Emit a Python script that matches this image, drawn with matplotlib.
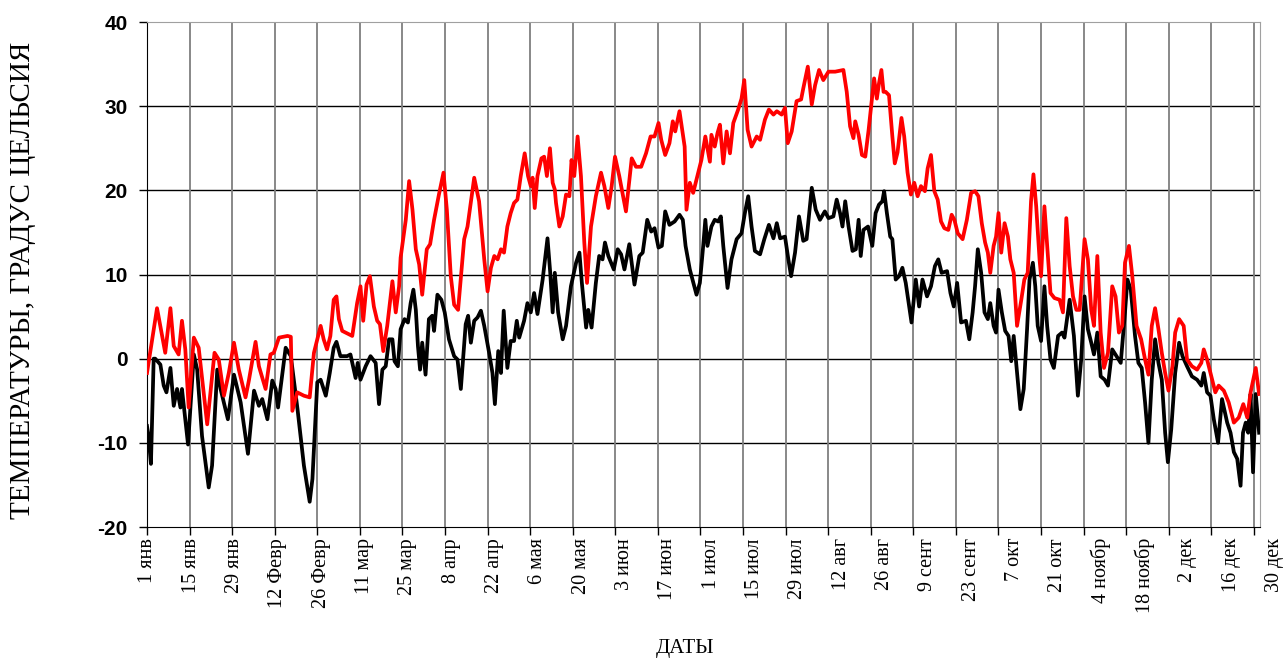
import numpy as np
import matplotlib.pyplot as plt
from matplotlib.transforms import blended_transform_factory, ScaledTranslation

# дневные максимумы (красная линия): день от 1 янв и температура
max_day = [0.0, 3.3, 6.0, 7.7, 8.8, 10.4, 11.5, 12.6, 13.7, 15.4, 17.0, 19.8, 22.2, 23.6, 25.3, 26.9,
           28.6, 30.2, 32.4, 33.5, 35.7, 36.8, 39.0, 40.6, 41.7, 43.4, 46.2, 47.3, 47.8, 49.4, 51.6,
           53.5, 54.9, 57.1, 58.1, 59.2, 60.3, 61.4, 62.3, 63.1, 64.2, 67.5, 69.1, 70.2, 71.1, 72.2,
           73.3, 74.6, 75.7, 76.6, 77.7, 79.0, 80.7, 81.8, 82.9, 83.4, 85.1, 86.2, 87.3, 88.4, 89.5,
           90.5, 92.0, 93.1, 94.4, 96.0, 97.5, 98.6, 99.9, 101.0, 102.3, 104.3, 105.4, 107.6, 109.2,
           110.9, 112.0, 113.1, 114.2, 115.3, 116.4, 117.4, 118.5, 119.6, 120.7, 121.8, 122.9, 124.2,
           125.3, 126.2, 126.8, 127.5, 128.4, 129.7, 130.6, 131.5, 132.5, 133.4, 134.1, 134.5, 135.6,
           136.7, 137.8, 138.9, 139.6, 140.5, 141.6, 142.7, 143.8, 144.7, 146.0, 147.6, 149.3, 150.4,
           151.7, 152.8, 153.9, 155.3, 157.5, 159.4, 160.8, 162.5, 164.1, 165.6, 166.9, 168.2, 169.1,
           170.4, 171.8, 172.9, 173.7, 175.1, 176.8, 177.4, 178.5, 179.6, 180.7, 182.3, 183.6, 185.1,
           185.6, 186.7, 187.6, 188.4, 189.5, 190.6, 191.7, 192.8, 194.4, 195.5, 196.4, 197.5, 198.8,
           200.5, 201.6, 203.2, 204.5, 206.0, 207.1, 208.7, 209.8, 210.7, 212.0, 213.6, 215.1, 215.8,
           217.3, 218.6, 219.7, 221.0, 222.4, 224.1, 226.3, 229.0, 230.1, 231.2, 232.3, 232.9, 234.0,
           235.1, 236.2, 237.3, 239.1, 240.0, 240.7, 241.5, 242.2, 242.9, 244.0, 245.1, 245.9, 246.8,
           248.1, 249.0, 250.1, 251.2, 252.3, 253.4, 254.5, 255.8, 256.7, 257.8, 258.9, 260.0, 261.1,
           262.2, 263.5, 264.6, 265.5, 266.6, 268.2, 269.6, 271.0, 272.3, 273.4, 274.5, 275.6, 276.5,
           277.3, 278.4, 279.2, 280.0, 280.9, 282.0, 283.1, 283.9, 285.0, 286.1, 287.5, 288.5, 289.6,
           290.7, 291.5, 292.4, 293.5, 294.0, 295.1, 296.0, 297.1, 298.4, 300.1, 301.2, 302.3, 303.4,
           304.5, 305.6, 306.7, 308.3, 309.4, 310.5, 311.4, 312.5, 313.6, 314.7, 316.0, 317.4, 318.5,
           319.6, 320.7, 321.6, 322.9, 324.0, 325.4, 326.9, 328.2, 329.3, 330.4, 331.5, 332.6, 333.7,
           334.8, 335.9, 337.2, 338.1, 339.4, 340.9, 342.0, 343.6, 345.3, 346.7, 347.5, 348.6, 349.7,
           351.3, 352.4, 354.1, 355.7, 357.4, 359.0, 360.5, 361.8, 362.9, 364.6, 365.7]
max_temp = [-1.7, 6.0, 0.7, 6.0, 1.5, 0.5, 4.5, 1.1, -5.8, 2.5, 1.3, -7.8, 0.7, -0.1, -4.4, -1.7,
            1.9, -1.3, -4.6, -2.6, 2.0, -0.9, -3.6, 0.5, 0.7, 2.5, 2.7, 2.6, -6.2, -4.0, -4.4,
            -4.6, 0.7, 3.9, 2.3, 1.1, 2.7, 7.0, 7.4, 4.7, 3.3, 2.7, 6.6, 8.6, 4.5, 8.8,
            9.8, 6.2, 4.5, 4.1, 0.9, 3.9, 9.2, 5.5, 8.6, 12.0, 16.5, 21.1, 17.7, 13.0, 11.2,
            7.6, 13.0, 13.6, 16.5, 19.5, 22.1, 17.7, 9.8, 6.4, 5.8, 14.2, 15.7, 21.5, 18.7,
            11.8, 8.0, 10.8, 12.2, 11.8, 13.0, 12.6, 15.7, 17.3, 18.5, 18.9, 21.7, 24.4,
            21.7, 20.5, 21.5, 17.9, 21.7, 23.8, 24.0, 21.7, 25.0, 20.9, 20.1, 18.5, 15.7,
            16.9, 19.5, 19.3, 23.6, 21.7, 26.4, 21.7, 13.8, 9.0, 15.7, 19.3, 22.1, 20.5,
            17.9, 20.5, 24.0, 21.7, 17.5, 23.8, 22.8, 22.8, 24.4, 26.4, 26.4, 28.0, 26.0,
            24.2, 25.6, 28.2, 27.0, 29.4, 25.2, 17.7, 20.9, 19.7, 21.3, 23.6, 26.4, 23.4,
            26.6, 25.2, 26.8, 27.8, 23.2, 27.0, 24.4, 28.0, 29.6, 30.9, 33.1, 27.2, 25.2,
            26.4, 26.0, 28.4, 29.6, 29.0, 29.4, 29.0, 29.8, 25.6, 27.0, 30.6, 30.8, 32.1,
            34.7, 30.2, 32.5, 34.3, 33.1, 34.1, 34.1, 34.3, 31.7, 27.6, 26.2, 28.2, 26.6,
            24.2, 24.0, 27.2, 33.3, 30.9, 32.7, 34.3, 31.7, 31.7, 31.3, 26.4, 23.2, 24.5,
            28.6, 26.4, 22.1, 19.5, 20.9, 19.3, 20.5, 19.9, 22.6, 24.2, 19.9, 18.9, 16.3,
            15.5, 15.3, 17.1, 16.5, 14.9, 14.2, 16.5, 19.7, 19.9, 19.3, 16.1, 13.8, 12.6,
            10.2, 13.4, 14.5, 17.3, 12.6, 16.1, 14.5, 11.8, 10.2, 3.9, 7.0, 9.4, 10.2,
            18.7, 21.9, 18.1, 11.8, 9.8, 18.1, 13.4, 7.8, 7.2, 7.0, 5.5, 16.7, 11.0,
            7.4, 5.8, 5.8, 14.2, 11.8, 5.8, 3.9, 12.2, 3.1, -1.1, 0.7, 8.6, 7.4,
            3.1, 3.9, 11.4, 13.4, 9.8, 3.9, 2.3, -0.1, -1.9, 3.9, 6.0, 3.5, 0.7,
            -1.7, -3.8, -0.9, 3.1, 4.7, 3.9, -0.1, -0.9, -1.3, -0.5, 1.1, -0.1, -1.7,
            -4.0, -3.2, -3.8, -5.2, -7.6, -7.0, -5.4, -7.0, -4.0, -1.1, -4.2]

# дневные минимумы (черная линия)
min_day = [0.0, 0.5, 1.3, 2.2, 2.7, 4.4, 5.5, 6.4, 7.7, 8.8, 9.9, 11.0, 11.5, 13.5, 15.4, 16.5,
           18.1, 20.3, 21.4, 23.1, 24.2, 26.6, 28.6, 30.8, 33.2, 35.2, 36.8, 37.9, 39.6, 41.2,
           42.3, 43.1, 45.6, 47.3, 49.5, 51.6, 53.5, 54.4, 56.0, 57.1, 58.8, 60.1, 61.4, 62.3,
           63.6, 65.8, 66.9, 68.6, 69.3, 70.2, 71.9, 73.5, 75.2, 76.3, 77.4, 78.5, 79.6, 80.7,
           81.4, 82.5, 83.4, 84.7, 85.8, 86.7, 87.6, 88.4, 89.1, 89.8, 90.5, 91.6, 92.7, 93.8,
           94.4, 95.5, 96.8, 97.9, 99.3, 101.0, 102.1, 103.2, 104.8, 105.6, 106.5, 107.6, 108.7,
           109.8, 110.9, 112.5, 113.6, 114.4, 115.5, 116.4, 117.3, 118.5, 119.6, 120.7, 121.6,
           122.4, 124.0, 125.1, 126.2, 127.3, 128.4, 130.1, 131.7, 132.6, 133.4, 134.1, 135.2,
           136.7, 137.8, 139.4, 141.1, 142.2, 143.0, 144.4, 145.1, 146.2, 147.6, 148.7, 149.8,
           150.6, 151.7, 153.5, 154.8, 155.9, 157.0, 158.6, 160.3, 161.9, 163.0, 164.5, 165.8,
           166.9, 168.2, 169.3, 170.4, 171.8, 173.5, 175.1, 176.2, 177.1, 178.5, 180.7, 181.8,
           182.9, 183.6, 184.3, 185.6, 186.7, 187.8, 188.7, 189.5, 190.9, 192.2, 193.9, 195.5,
           196.6, 197.7, 198.8, 199.9, 201.6, 203.0, 204.5, 206.0, 207.1, 208.2, 209.8, 210.9,
           211.8, 213.1, 214.4, 215.8, 216.9, 218.6, 219.9, 221.3, 222.9, 224.1, 225.7, 226.8,
           227.9, 228.7, 229.6, 230.7, 232.0, 233.1, 234.0, 234.7, 235.6, 237.1, 238.5, 239.6,
           240.7, 241.8, 242.4, 243.3, 244.4, 245.1, 246.2, 247.3, 248.4, 249.5, 250.3, 251.4,
           252.8, 253.9, 255.0, 256.5, 257.8, 259.1, 260.2, 261.3, 263.1, 264.2, 265.3, 266.4,
           267.7, 269.3, 270.4, 271.5, 272.3, 273.2, 274.3, 275.4, 276.5, 277.3, 278.4, 279.2,
           280.0, 281.1, 282.2, 283.3, 284.2, 285.0, 285.8, 287.2, 288.3, 289.4, 290.2, 291.3,
           292.1, 292.9, 294.0, 295.1, 296.0, 297.1, 298.2, 299.6, 300.9, 301.7, 303.4, 304.8,
           306.1, 307.2, 308.3, 309.4, 310.5, 311.4, 312.5, 313.6, 314.9, 316.0, 317.4, 318.8,
           320.2, 321.6, 322.4, 323.5, 324.9, 326.0, 327.1, 328.2, 329.3, 330.4, 331.5, 332.6,
           333.7, 334.8, 335.7, 336.8, 338.1, 339.4, 340.5, 342.0, 343.6, 345.3, 346.7, 347.5,
           348.6, 349.7, 350.8, 352.2, 353.5, 355.2, 356.3, 357.4, 358.5, 359.6, 360.4, 361.3,
           362.1, 362.9, 363.7, 364.6, 365.7]
min_temp = [-8.0, -9.2, -12.5, 0.0, 0.0, -0.7, -3.2, -4.0, -1.1, -5.6, -3.6, -5.8, -3.6, -10.2, 0.5, -1.3,
            -9.2, -15.3, -12.7, -1.3, -3.6, -7.2, -1.9, -5.2, -11.3, -3.8, -5.6, -4.8, -7.2, -2.6,
            -3.6, -5.8, 1.3, 0.3, -6.0, -12.7, -17.0, -14.3, -2.8, -2.5, -4.4, -1.7, 1.3, 2.0,
            0.3, 0.3, 0.5, -2.3, -0.5, -2.5, -0.9, 0.3, -0.5, -5.4, -1.3, -0.9, 2.3, 2.3,
            -0.3, -0.9, 3.5, 4.7, 4.3, 6.6, 8.2, 5.8, 1.5, -1.3, 1.9, -1.9, 4.7, 5.1,
            3.3, 7.6, 7.0, 5.5, 2.3, 0.3, -0.1, -3.6, 4.1, 5.1, 1.9, 4.5, 4.9,
            5.7, 3.9, 0.7, -1.7, -5.4, 0.9, -1.7, 5.7, -1.1, 2.1, 2.1, 4.5,
            2.5, 4.5, 6.6, 5.5, 7.8, 5.3, 9.4, 14.3, 10.2, 5.5, 10.2, 5.5,
            2.3, 3.9, 8.6, 11.4, 12.6, 9.0, 3.7, 5.8, 3.7, 9.0, 12.2, 11.8,
            13.8, 12.2, 10.6, 13.0, 12.4, 10.6, 13.6, 8.8, 12.2, 12.6, 16.5, 15.1,
            15.5, 13.2, 13.4, 17.5, 15.9, 16.3, 17.1, 16.5, 13.4, 10.6, 7.6, 9.0,
            13.4, 16.5, 13.4, 15.7, 16.5, 16.3, 16.9, 13.4, 8.4, 11.8, 14.2, 14.9,
            17.3, 19.3, 15.7, 12.8, 12.4, 14.2, 15.9, 14.3, 16.1, 14.3, 14.5, 11.8,
            9.8, 12.6, 16.9, 14.0, 14.2, 20.3, 17.7, 16.5, 17.5, 16.7, 16.9, 18.9,
            17.3, 15.7, 18.7, 15.7, 12.8, 13.0, 16.5, 12.2, 15.3, 15.7, 13.4, 17.3,
            18.3, 18.7, 19.9, 17.3, 14.5, 14.2, 9.4, 9.8, 10.8, 9.0, 7.0, 4.3,
            9.4, 6.2, 9.4, 7.4, 8.6, 11.0, 11.8, 10.2, 10.4, 7.8, 6.2, 9.0,
            4.3, 4.5, 2.3, 5.5, 8.6, 13.0, 10.2, 5.5, 4.7, 6.6, 3.9, 3.1,
            8.2, 5.5, 3.3, 2.7, -0.3, 2.7, -0.5, -6.0, -3.6, 3.5, 9.4, 11.4,
            8.6, 3.9, 2.1, 8.6, 3.9, -0.1, -1.1, 2.7, 3.1, 2.5, 7.0, 2.7,
            -4.4, -0.1, 7.4, 3.5, 1.9, 0.5, 3.1, -2.1, -2.5, -3.2, 1.1, 0.3,
            -0.5, 5.5, 9.4, 8.2, 2.7, -0.5, -1.1, -5.2, -10.0, -2.5, 2.3, -0.5,
            -2.5, -8.8, -12.3, -8.4, -1.7, 1.9, 0.3, -0.9, -2.1, -2.5, -3.2, -1.7,
            -4.0, -4.4, -7.2, -10.0, -4.8, -7.6, -8.8, -11.1, -11.9, -15.1, -8.8, -7.6,
            -8.8, -4.2, -13.5, -4.2, -8.8]

date_labels = ['1 янв', '15 янв', '29 янв', '12 Февр', '26 Февр', '11 мар', '25 мар', '8 апр',
               '22 апр', '6 мая', '20 мая', '3 июн', '17 июн', '1 июл', '15 июл', '29 июл',
               '12 авг', '26 авг', '9 сент', '23 сент', '7 окт', '21 окт', '4 ноябр',
               '18 ноябр', '2 дек', '16 дек', '30 дек']
date_ticks = np.arange(len(date_labels)) * 14

fig = plt.figure(figsize=(12.86, 6.59), dpi=100)
ax = fig.add_axes([0.1143, 0.2003, 0.8655, 0.7663])

ax.plot(min_day, min_temp, color='black', lw=2.7, solid_joinstyle='round', zorder=3)
ax.plot(max_day, max_temp, color='#ff0000', lw=2.7, solid_joinstyle='round', zorder=4)

ax.set_xlim(0, 366)
ax.set_ylim(-20, 40)

# сетка: горизонтальные черные, вертикальные серые
for t in range(-10, 40, 10):
    ax.axhline(t, color='black', lw=1.0, zorder=1)
for d in date_ticks[1:]:
    ax.axvline(d, color='#7f7f7f', lw=1.3, zorder=1)

ax.set_yticks(range(-20, 41, 10))
ax.set_yticklabels([str(v) for v in range(-20, 41, 10)],
                   fontfamily='Liberation Sans', fontweight='bold', fontsize=15)
ax.tick_params(axis='y', direction='out', length=6, width=1, pad=8)

# подписи дат: немного разнесены шире, чем сами деления
ax.set_xticks(date_ticks)
ax.set_xticklabels([])
ax.tick_params(axis='x', direction='out', length=6, width=1)
base = blended_transform_factory(ax.transData, ax.transAxes)
for i, (d, lab) in enumerate(zip(date_ticks, date_labels)):
    shift = ScaledTranslation((0.75 * i + 1) / 100, -0.11, fig.dpi_scale_trans)
    ax.text(d, 0, lab, transform=base + shift, rotation=90, ha='center', va='top',
            fontfamily='Liberation Serif', fontsize=14.5)

ax.spines['left'].set_color('black')
ax.spines['bottom'].set_color('black')
ax.spines['top'].set_color('#a0a0a0')
ax.spines['right'].set_color('#a0a0a0')

fig.text(0.0175, 0.574, 'ТЕМПЕРАТУРЫ, ГРАДУС ЦЕЛЬСИЯ', rotation=90, ha='center', va='center',
         fontfamily='Liberation Serif', fontsize=21)
fig.text(0.533, 0.016, 'ДАТЫ', ha='center', va='center',
         fontfamily='Liberation Serif', fontsize=15)

fig.savefig('out.png', dpi=100)
